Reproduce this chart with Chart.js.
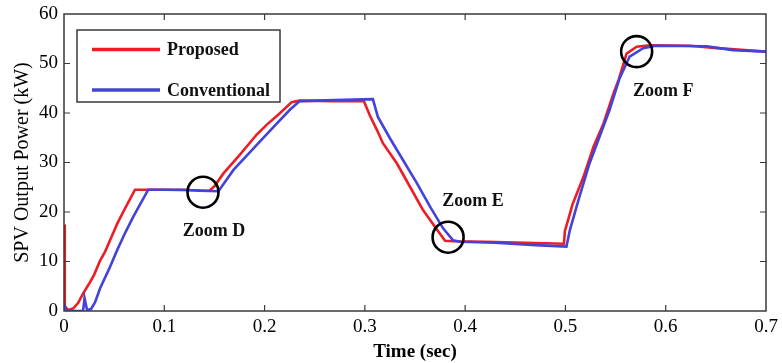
<!DOCTYPE html>
<html>
<head>
<meta charset="utf-8">
<script src="https://cdn.jsdelivr.net/npm/chart.js@4/dist/chart.umd.min.js"></script>
<style>
html,body{margin:0;padding:0;background:#fff;}
#wrap{width:782px;height:363px;position:relative;}
</style>
</head>
<body>
<div id="wrap"><canvas id="c" width="782" height="363"></canvas></div>
<script>
// ---- Data ----
const seriesNames = ['Proposed', 'Conventional'];

const timeProposed = [0, 0.0008, 0.004, 0.009, 0.014, 0.019, 0.025, 0.030, 0.036, 0.041, 0.047, 0.053, 0.059, 0.065, 0.0708,
  0.100, 0.130, 0.145, 0.150, 0.159, 0.175, 0.192, 0.202, 0.215, 0.227, 0.235, 0.270, 0.299,
  0.305, 0.312, 0.318, 0.332, 0.345, 0.358, 0.372, 0.380, 0.388, 0.420, 0.460, 0.4985,
  0.4995, 0.503, 0.507, 0.518, 0.528, 0.538, 0.548, 0.553, 0.561, 0.571, 0.584, 0.624, 0.651, 0.700];
const powerProposed = [17.5, 1.0, 0.2, 0.5, 1.6, 3.5, 5.5, 7.3, 10.2, 12.0, 14.8, 17.6, 20.0, 22.3, 24.5,
  24.5, 24.4, 24.3, 25.2, 27.8, 31.5, 35.6, 37.6, 39.9, 42.2, 42.5, 42.4, 42.4,
  39.5, 36.6, 33.9, 29.8, 25.1, 20.4, 16.4, 14.2, 14.1, 14.0, 13.8, 13.6,
  16.2, 18.6, 21.5, 27.1, 33.2, 37.9, 44.0, 46.7, 52.0, 53.4, 53.7, 53.6, 53.1, 52.4];

const timeConventional = [0, 0.002, 0.010, 0.019, 0.0205, 0.023, 0.027, 0.031, 0.036, 0.045, 0.053, 0.061, 0.069, 0.076, 0.084,
  0.120, 0.135, 0.154, 0.169, 0.192, 0.209, 0.225, 0.235, 0.270, 0.308,
  0.313, 0.325, 0.338, 0.352, 0.365, 0.378, 0.388, 0.395, 0.430, 0.470, 0.501,
  0.5045, 0.514, 0.524, 0.534, 0.544, 0.554, 0.564, 0.5775, 0.590, 0.641, 0.667, 0.700];
const powerConventional = [1.5, 0.1, 0.0, 0.0, 2.6, 0.2, 0.4, 1.8, 4.6, 8.5, 12.3, 15.8, 19.0, 21.6, 24.5,
  24.5, 24.3, 24.2, 28.5, 33.5, 37.2, 40.6, 42.4, 42.6, 42.8,
  39.2, 34.9, 30.5, 25.8, 21.1, 16.7, 14.3, 14.0, 13.8, 13.3, 13.0,
  16.4, 23.1, 29.8, 35.2, 40.6, 47.0, 51.4, 53.1, 53.6, 53.5, 52.7, 52.4];

const xTickLabels = ['0', '0.1', '0.2', '0.3', '0.4', '0.5', '0.6', '0.7'];
const yTickLabels = ['0', '10', '20', '30', '40', '50', '60'];

const zoomLabels = ['Zoom D', 'Zoom E', 'Zoom F'];
const zoomTimes = [0.1386, 0.383, 0.571];
const zoomPowers = [24.0, 14.9, 52.4];

// ---- Styles ----
const RED = '#ee1c25';
const BLUE = '#4343d9';
const FRAME = '#3a3a3a';
const SERIF = "'Liberation Serif', 'Times New Roman', serif";
const zoomLabelOffsets = [[11, 39], [25, -36], [26.5, 39.5]];

function toPoints(xs, ys) { return xs.map((x, i) => ({x: x, y: ys[i]})); }

const framePlugin = {
  id: 'frame',
  afterDatasetsDraw(chart) {
    const {ctx, chartArea: a, scales} = chart;
    ctx.save();
    ctx.strokeStyle = FRAME;
    ctx.lineWidth = 1.5;
    ctx.strokeRect(a.left, a.top, a.right - a.left, a.bottom - a.top);
    ctx.lineWidth = 1.2;
    const tl = 6;
    xTickLabels.forEach(l => {
      const v = parseFloat(l);
      const px = scales.x.getPixelForValue(v);
      if (px <= a.left + 1 || px >= a.right - 1) return;
      ctx.beginPath();
      ctx.moveTo(px, a.bottom); ctx.lineTo(px, a.bottom - tl);
      ctx.moveTo(px, a.top); ctx.lineTo(px, a.top + tl);
      ctx.stroke();
    });
    yTickLabels.forEach(l => {
      const v = parseFloat(l);
      const py = scales.y.getPixelForValue(v);
      if (py <= a.top + 1 || py >= a.bottom - 1) return;
      ctx.beginPath();
      ctx.moveTo(a.left, py); ctx.lineTo(a.left + tl, py);
      ctx.moveTo(a.right, py); ctx.lineTo(a.right - tl, py);
      ctx.stroke();
    });
    // zoom circles and labels
    ctx.strokeStyle = '#000';
    ctx.lineWidth = 2.6;
    ctx.fillStyle = '#111';
    ctx.font = 'bold 18px ' + SERIF;
    ctx.textAlign = 'center';
    ctx.textBaseline = 'middle';
    zoomLabels.forEach((lab, i) => {
      const cx = scales.x.getPixelForValue(zoomTimes[i]);
      const cy = scales.y.getPixelForValue(zoomPowers[i]);
      ctx.beginPath();
      ctx.arc(cx, cy, 15.5, 0, Math.PI * 2);
      ctx.stroke();
      ctx.fillText(lab, cx + zoomLabelOffsets[i][0], cy + zoomLabelOffsets[i][1]);
    });
    // legend
    const bx = a.left + 13, by = a.top + 16, bw = 203, bh = 72;
    ctx.fillStyle = '#fff';
    ctx.fillRect(bx, by, bw, bh);
    ctx.strokeStyle = FRAME;
    ctx.lineWidth = 1.5;
    ctx.strokeRect(bx, by, bw, bh);
    const colors = [RED, BLUE];
    const rows = [by + 19.5, by + 60];
    ctx.textAlign = 'left';
    ctx.font = 'bold 18px ' + SERIF;
    seriesNames.forEach((n, i) => {
      ctx.strokeStyle = colors[i];
      ctx.lineWidth = 3.6;
      ctx.beginPath();
      ctx.moveTo(bx + 15, rows[i]); ctx.lineTo(bx + 83, rows[i]);
      ctx.stroke();
      ctx.fillStyle = '#111';
      ctx.fillText(n, bx + 90, rows[i] + 1);
    });
    ctx.restore();
  }
};

new Chart(document.getElementById('c'), {
  type: 'line',
  data: {
    datasets: [
      {label: seriesNames[1], data: toPoints(timeConventional, powerConventional), borderColor: BLUE,
       borderWidth: 2.6, pointRadius: 0, fill: false, tension: 0},
      {label: seriesNames[0], data: toPoints(timeProposed, powerProposed), borderColor: RED,
       borderWidth: 2.6, pointRadius: 0, fill: false, tension: 0}
    ]
  },
  options: {
    responsive: false,
    animation: false,
    devicePixelRatio: 1,
    layout: {padding: {top: 14, right: 16, left: 0, bottom: 0}},
    plugins: {legend: {display: false}, tooltip: {enabled: false}},
    scales: {
      x: {
        type: 'linear', min: 0, max: 0.7,
        afterBuildTicks: s => { s.ticks = xTickLabels.map(l => ({value: parseFloat(l)})); },
        afterFit: s => { s.height = 52; s.paddingLeft = 0; s.paddingRight = 0; },
        ticks: {
          callback: (v, i) => xTickLabels[i],
          font: {family: SERIF, size: 19}, color: '#000', padding: 5, maxRotation: 0, autoSkip: false
        },
        grid: {display: false, drawTicks: false, tickLength: 0},
        border: {display: false},
        title: {display: true, text: 'Time (sec)', font: {family: SERIF, size: 19, weight: 'bold'},
                color: '#000', padding: {top: 0, bottom: 0}}
      },
      y: {
        min: 0, max: 60,
        afterBuildTicks: s => { s.ticks = yTickLabels.map(l => ({value: parseFloat(l)})); },
        afterFit: s => { s.width = 64; s.paddingTop = 0; s.paddingBottom = 0; },
        ticks: {
          callback: (v, i) => yTickLabels[i],
          font: {family: SERIF, size: 19}, color: '#000', padding: 6, autoSkip: false
        },
        grid: {display: false, drawTicks: false, tickLength: 0},
        border: {display: false},
        title: {display: true, text: 'SPV Output Power (kW)', font: {family: SERIF, size: 20},
                color: '#000', padding: {top: 11, bottom: 0}}
      }
    }
  },
  plugins: [framePlugin]
});
</script>
</body>
</html>
